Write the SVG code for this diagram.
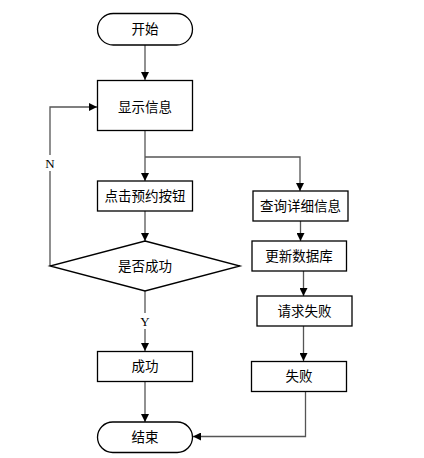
<svg xmlns="http://www.w3.org/2000/svg" width="424" height="458" viewBox="0 0 424 458">
<style>
.box{fill:#fff;stroke:#000;stroke-width:1.3}
.t{font-family:"Liberation Sans","Noto Sans CJK SC",sans-serif;font-size:13.5px;fill:#000;text-anchor:middle;dominant-baseline:central}
.lbl{font-family:"Liberation Serif",serif;font-size:13px;fill:#000;text-anchor:middle;dominant-baseline:central}
.c{fill:none;stroke:#555;stroke-width:1.3}
</style>
<defs>
<marker id="ah" viewBox="0 0 10 10" refX="10" refY="5" markerWidth="8" markerHeight="8" markerUnits="userSpaceOnUse" orient="auto">
<path d="M0,0 L10,5 L0,10 Z" fill="#000"/>
</marker>
</defs>
<g id="connectors">
<path class="c" d="M145,45 V80" marker-end="url(#ah)"/>
<path class="c" d="M145,131 V181" marker-end="url(#ah)"/>
<path class="c" d="M145,157 H300 V191" marker-end="url(#ah)"/>
<path class="c" d="M145,211 V241" marker-end="url(#ah)"/>
<path class="c" d="M50,266 V107 H97" marker-end="url(#ah)"/>
<path class="c" d="M145,291 V351" marker-end="url(#ah)"/>
<path class="c" d="M145,381 V422" marker-end="url(#ah)"/>
<path class="c" d="M300.5,221 V241" marker-end="url(#ah)"/>
<path class="c" d="M303.5,271 V296" marker-end="url(#ah)"/>
<path class="c" d="M303.5,326 V361" marker-end="url(#ah)"/>
<path class="c" d="M305.5,391 V436.5 H193" marker-end="url(#ah)"/>
<rect x="43" y="155" width="14" height="16" fill="#fff"/>
<text class="lbl" x="50" y="163">N</text>
<rect x="138" y="313" width="14" height="16" fill="#fff"/>
<text class="lbl" x="145" y="321.5">Y</text>
</g>
<g id="start"><rect class="box" x="97.5" y="13.5" width="95" height="31.5" rx="15.75"/><text class="t" x="145" y="29">开始</text></g>
<g id="show"><rect class="box" x="97.5" y="80.5" width="95" height="50"/><text class="t" x="145" y="107">显示信息</text></g>
<g id="click"><rect class="box" x="97.5" y="181" width="95" height="30"/><text class="t" x="145" y="196">点击预约按钮</text></g>
<g id="decide"><polygon class="box" points="145,241 240,266 145,291 50,266"/><text class="t" x="145" y="266">是否成功</text></g>
<g id="success"><rect class="box" x="97.5" y="351.5" width="95" height="30"/><text class="t" x="145" y="366.5">成功</text></g>
<g id="end"><rect class="box" x="97.5" y="422" width="95" height="30.5" rx="15.25"/><text class="t" x="145" y="437">结束</text></g>
<g id="query"><rect class="box" x="253" y="191" width="95" height="30"/><text class="t" x="300.5" y="206">查询详细信息</text></g>
<g id="update"><rect class="box" x="252" y="241" width="94.5" height="30"/><text class="t" x="299" y="256">更新数据库</text></g>
<g id="reqfail"><rect class="box" x="257" y="296" width="95" height="30"/><text class="t" x="304.5" y="311">请求失败</text></g>
<g id="fail"><rect class="box" x="251.5" y="361.5" width="95" height="30"/><text class="t" x="299" y="376.5">失败</text></g>
</svg>
